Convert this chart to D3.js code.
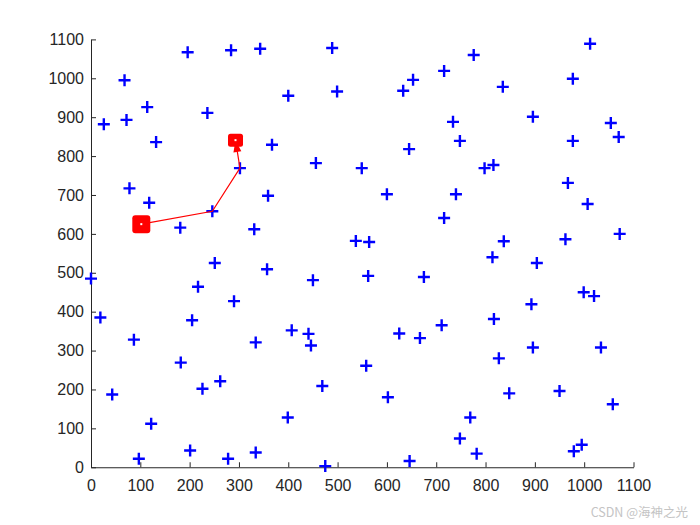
<!DOCTYPE html>
<html>
<head>
<meta charset="utf-8">
<script src="https://cdn.jsdelivr.net/npm/d3@7"></script>
<style>
  html, body { margin: 0; padding: 0; background: #fff; }
  svg { display: block; }
</style>
</head>
<body>
<svg id="chart" width="700" height="525"></svg>
<script>
// ---- data ----
const cityX = [102, 293,
  196, 284, 343, 489, 68, 499, 400, 114, 236, 26, 72, 132, 367, 302, 456, 78, 359, 118, 246, 181, 331, 537,
  1012, 776, 716, 653, 633, 977, 835, 896, 734, 1054, 1070, 977, 748, 645, 549, 816, 798, 600, 740, 967, 1007, 716, 564, 837, 962, 1072,
  0, 251, 357, 450, 217, 290, 19, 205, 407, 441, 87, 334, 446, 182, 262, 226, 469, 43, 399, 122, 201, 334, 97, 278, 475,
  814, 904, 562, 675, 999, 1020, 893, 817, 625, 711, 667, 896, 1034, 827, 558, 602, 848, 950, 1058, 769, 748, 995, 979, 782, 646];
const cityY = [625, 841,
  1067, 1072, 1076, 1078, 995, 966, 955, 926, 911, 882, 893, 836, 829, 769, 782, 717, 698, 680, 658, 616, 612, 582,
  1089, 1060, 1019, 996, 968, 999, 978, 901, 888, 885, 849, 839, 839, 818, 769, 777, 769, 702, 702, 731, 677, 641, 579, 581, 586, 600,
  485, 525, 509, 481, 464, 427, 385, 378, 352, 343, 328, 321, 313, 269, 221, 202, 209, 187, 128, 112, 43, 38, 22, 22, 3,
  540, 525, 492, 489, 450, 440, 419, 381, 344, 365, 332, 308, 308, 280, 261, 180, 190, 196, 162, 128, 74, 58, 41, 35, 16];
const pathX = [102, 246, 302, 293];
const pathY = [625, 658, 769, 841];
const xTicks = [0, 100, 200, 300, 400, 500, 600, 700, 800, 900, 1000, 1100];
const yTicks = [0, 100, 200, 300, 400, 500, 600, 700, 800, 900, 1000, 1100];

// ---- layout ----
const svg = d3.select("#chart");
const L = 91, R = 633.5, T = 39.4, B = 467.25;
const x = d3.scaleLinear().domain([0, 1100]).range([L, R]);
const y = d3.scaleLinear().domain([0, 1100]).range([B, T]);
const axisColor = "#262626";
const font = "'Liberation Sans', Arial, Helvetica, sans-serif";

// axes (MATLAB style, inward ticks, box off)
const xAxis = d3.axisBottom(x).tickValues(xTicks).tickSizeInner(-5).tickSizeOuter(0).tickPadding(12).tickFormat(d3.format("d"));
const yAxis = d3.axisLeft(y).tickValues(yTicks).tickSizeInner(-5).tickSizeOuter(0).tickPadding(7).tickFormat(d3.format("d"));

const gx = svg.append("g").attr("transform", `translate(0,${B})`).call(xAxis);
const gy = svg.append("g").attr("transform", `translate(${L},0)`).call(yAxis);
[gx, gy].forEach(g => {
  g.select(".domain").attr("stroke", axisColor).attr("stroke-width", 1);
  g.selectAll(".tick line").attr("stroke", axisColor).attr("stroke-width", 1);
  g.selectAll(".tick text").attr("fill", axisColor).style("font-family", font).style("font-size", "16px");
});

// blue plus markers
const plus = svg.append("g");
cityX.forEach((cx, i) => {
  const px = x(cx), py = y(cityY[i]);
  plus.append("path")
    .attr("d", `M${px - 6},${py}H${px + 6}M${px},${py - 6}V${py + 6}`)
    .attr("stroke", "#0000ff").attr("stroke-width", 2.4).attr("fill", "none");
});

// red path
const line = d3.line().x(d => x(d[0])).y(d => y(d[1]));
const pts = pathX.map((v, i) => [v, pathY[i]]);
svg.append("path").attr("d", line(pts)).attr("stroke", "#ff0000").attr("stroke-width", 1.2).attr("fill", "none");

// arrowhead at the end of the path
const a = pts[pts.length - 2], b = pts[pts.length - 1];
const ax = x(a[0]), ay = y(a[1]), bx = x(b[0]), by = y(b[1]);
const ang = Math.atan2(by - ay, bx - ax);
const hl = 12, hw = 4;
const tx = bx, ty = by;
const baseX = tx - hl * Math.cos(ang), baseY = ty - hl * Math.sin(ang);
svg.append("path")
  .attr("d", `M${tx},${ty}L${baseX + hw * Math.sin(ang)},${baseY - hw * Math.cos(ang)}L${baseX - hw * Math.sin(ang)},${baseY + hw * Math.cos(ang)}Z`)
  .attr("fill", "#ff0000");

// start and end squares
const sx = x(pathX[0]), sy = y(pathY[0]);
svg.append("rect").attr("x", sx - 9).attr("y", sy - 9).attr("width", 18).attr("height", 18)
  .attr("rx", 3).attr("fill", "#ff0000");
svg.append("rect").attr("x", bx - 7.5).attr("y", by - 6.5).attr("width", 15).attr("height", 13)
  .attr("rx", 2.5).attr("fill", "#ff0000");
[[sx, sy], [bx, by]].forEach(p => {
  svg.append("rect").attr("x", p[0] - 1).attr("y", p[1] - 1).attr("width", 2).attr("height", 2).attr("fill", "#fff");
});

// watermark
svg.append("text").attr("x", 688).attr("y", 517).attr("text-anchor", "end")
  .style("font-family", "'Noto Sans CJK SC', 'Liberation Sans', sans-serif").style("font-size", "12.5px")
  .attr("fill", "#c4c4c4").text("CSDN @海神之光");
</script>
</body>
</html>
